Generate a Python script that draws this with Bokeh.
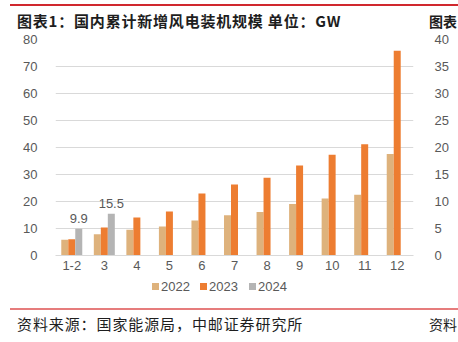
from bokeh.plotting import figure
from bokeh.models import (ColumnDataSource, FactorRange, Range1d, LinearAxis, Div, SingleIntervalTicker)
from bokeh.layouts import column
from bokeh.transform import dodge
from bokeh.core.properties import value
from bokeh.embed import file_html
from bokeh.resources import INLINE

months = ["1-2", "3", "4", "5", "6", "7", "8", "9", "10", "11", "12"]
v2022 = [5.8, 7.9, 9.5, 10.7, 13.0, 14.9, 16.1, 19.1, 21.1, 22.5, 37.6]
v2023 = [6.0, 10.4, 14.1, 16.3, 23.0, 26.3, 28.8, 33.3, 37.3, 41.2, 75.8]
v2024 = [9.9, 15.5, None, None, None, None, None, None, None, None, None]
series_names = ["2022", "2023", "2024"]
colors = ["#DEB27C", "#ED7D31", "#B4B4B4"]

title_text = "图表1：国内累计新增风电装机规模 单位：GW"
next_title = "图表"
source_text = "资料来源：国家能源局，中邮证券研究所"
next_source = "资料"

nan = float("nan")
src = ColumnDataSource(dict(
    month=months,
    v2022=v2022,
    v2023=v2023,
    v2024=[nan if v is None else v for v in v2024],
))
lbl_src = ColumnDataSource(dict(
    month=[m for m, v in zip(months, v2024) if v is not None],
    v=[v for v in v2024 if v is not None],
    t=[f"{v}" for v in v2024 if v is not None],
))

W = 458
TOP_H = 30
FIG_H = 246
BOT_H = 342 - TOP_H - FIG_H

p = figure(x_range=FactorRange(*months), y_range=Range1d(0, 80),
           width=W, height=FIG_H, output_backend="svg", toolbar_location=None,
           min_border_left=55, min_border_right=45, min_border_top=9, min_border_bottom=21,
           margin=0)
p.outline_line_color = None
p.background_fill_color = "white"
p.border_fill_color = "white"

bw = 0.215
p.vbar(x=dodge("month", -bw, range=p.x_range), top="v2022", width=bw, source=src,
       fill_color=colors[0], line_color=None)
p.vbar(x=dodge("month", 0, range=p.x_range), top="v2023", width=bw, source=src,
       fill_color=colors[1], line_color=None)
p.vbar(x=dodge("month", bw, range=p.x_range), top="v2024", width=bw, source=src,
       fill_color=colors[2], line_color=None)

p.text(x=dodge("month", bw, range=p.x_range), y="v", text="t", source=lbl_src,
       text_align="center", text_baseline="alphabetic", y_offset=-10,
       text_font_size="13px", text_color="#595959", text_font=value("Liberation Sans"))

p.xgrid.grid_line_color = None
p.ygrid.grid_line_color = "#D9D9D9"
p.ygrid.grid_line_width = 1
p.yaxis.ticker = SingleIntervalTicker(interval=10)

p.extra_y_ranges = {"right": Range1d(0, 40)}
rax = LinearAxis(y_range_name="right", ticker=SingleIntervalTicker(interval=5))
p.add_layout(rax, "right")

for ax in [p.xaxis[0], p.yaxis[0], rax]:
    ax.axis_line_color = None
    ax.major_tick_line_color = None
    ax.minor_tick_line_color = None
    ax.major_tick_out = 0
    ax.major_tick_in = 0
    ax.minor_tick_out = 0
    ax.minor_tick_in = 0
    ax.major_label_text_font = "Liberation Sans"
    ax.major_label_text_font_size = "13px"
    ax.major_label_text_color = "#595959"
p.xaxis.axis_line_color = "#D9D9D9"
p.xaxis.major_label_standoff = 5
p.yaxis.major_label_standoff = 18
rax.major_label_standoff = 21

font = "'Noto Sans CJK SC', 'Noto Sans', sans-serif"
txt = "position:absolute;white-space:nowrap;color:#1E1E1E;line-height:18px;font-family:" + font + ";"

top_div = Div(
    text=(f'<div style="position:relative;width:{W}px;height:{TOP_H}px;overflow:hidden;">'
          f'<div style="position:absolute;left:10px;right:0;top:4px;height:2px;background:#D0282E;"></div>'
          f'<span style="{txt}left:17px;top:12px;font-weight:bold;font-size:15px;letter-spacing:0.8px;">{title_text}</span>'
          f'<span style="{txt}left:429px;top:12px;font-weight:bold;font-size:14px;">{next_title}</span>'
          f'</div>'),
    width=W, height=TOP_H, margin=0)

leg_html = ""
leg_x = [152, 200, 249]
for name, col, lx in zip(series_names, colors, leg_x):
    leg_html += (f'<div style="position:absolute;left:{lx}px;top:7px;width:7px;height:7px;background:{col};"></div>'
                 f'<span style="position:absolute;left:{lx + 9}px;top:3px;line-height:16px;white-space:nowrap;'
                 f'font-family:\'Liberation Sans\', Arial, sans-serif;font-size:13px;color:#595959;">{name}</span>')

bot_div = Div(
    text=(f'<div style="position:relative;width:{W}px;height:{BOT_H}px;overflow:hidden;">'
          + leg_html +
          f'<div style="position:absolute;left:10px;right:0;top:32px;height:1.5px;background:#E67C7C;"></div>'
          f'<span style="{txt}left:17px;top:39px;font-size:15px;letter-spacing:0.9px;">{source_text}</span>'
          f'<span style="{txt}left:429px;top:39px;font-size:14px;">{next_source}</span>'
          f'</div>'),
    width=W, height=BOT_H, margin=0)

layout = column(top_div, p, bot_div, spacing=0, margin=0)

open("out.html", "w").write(file_html(layout, INLINE))
